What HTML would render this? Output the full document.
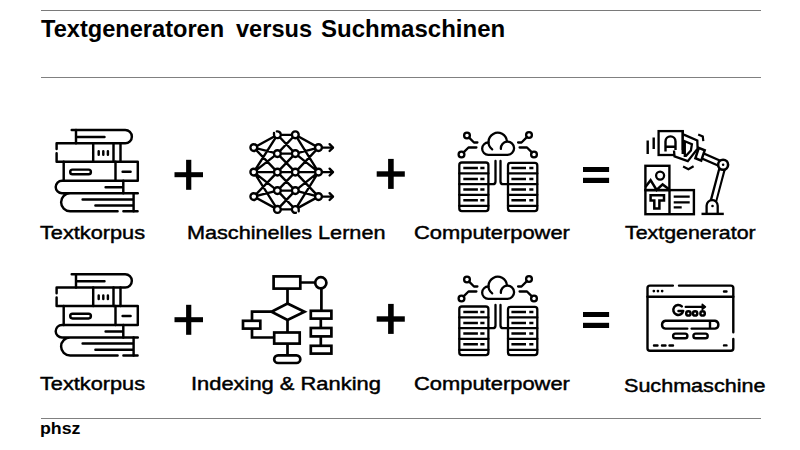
<!DOCTYPE html>
<html><head><meta charset="utf-8">
<style>
html,body{margin:0;padding:0;background:#fff;}
body{width:800px;height:450px;position:relative;overflow:hidden;}
svg{position:absolute;left:0;top:0;}
.t{position:absolute;white-space:pre;font-family:"Liberation Sans",sans-serif;color:#000;line-height:1;}
.title{font-weight:bold;font-size:23.6px;top:18px;transform-origin:0 0;}
#w1{left:41px;transform:scaleX(1.0)}#w2{left:236px}#w3{left:321px;transform:scaleX(1.018)}
.lab{font-size:18.8px;transform-origin:0 0;}
.ph{font-family:"Liberation Sans",sans-serif;font-weight:bold;font-size:16px;left:39.6px;top:420.6px;transform-origin:0 0;transform:scaleX(1.11);}

#l1{left:40.3px;top:223.8px;transform:scaleX(1.1569);}
#l2{left:186.5px;top:223.8px;transform:scaleX(1.1520);}
#l3{left:414px;top:223.8px;transform:scaleX(1.1665);}
#l4{left:625px;top:223.8px;transform:scaleX(1.1375);}
#l5{left:40px;top:374.8px;transform:scaleX(1.1569);}
#l6{left:191px;top:374.8px;transform:scaleX(1.1656);}
#l7{left:414px;top:374.8px;transform:scaleX(1.1665);}
#l8{left:623.5px;top:376.9px;transform:scaleX(1.1481);}
.lab{-webkit-text-stroke:0.45px #000;}
</style></head>
<body>
<svg width="800" height="450" viewBox="0 0 800 450">
<defs>
 <g id="books" fill="none" stroke="#000" stroke-width="2.45" stroke-linecap="round" stroke-linejoin="round">
  <path d="M71.7,130 H125.2 A6.65,6.65 0 0 1 125.2,143.3 H56.6 V149 M56.6,153.2 V161.8 H137.8 V180.7 H62 A6.3,6.3 0 0 0 62,193.3 H137.8 M70.1,193.3 A9,9 0 0 0 70.1,211.3 H117.6 M123.4,211.3 H137.6"/>
  <path d="M76,130 V143.3 M77,137 H104.5 M93.2,143.3 V161.8 M113.5,143.3 V161.8 M120.5,143.3 V161.8 M98.7,151.2 V154.8 M103.3,151.2 V154.8 M107.9,151.2 V154.8"/>
  <path d="M63.7,161.8 V180.7 M115.5,161.8 V180.7 M122.6,171.7 H130.6"/>
  <rect x="70.2" y="169.6" width="20.7" height="4.6" rx="2.3"/>
  <path d="M123.3,180.7 V193.3 M105.6,187.2 H123.3"/>
  <path d="M133.6,193.3 V211.3 M82.6,199.4 H133.6 M95.4,205.5 H133.6"/>
 </g>
 <g id="cloudsrv" fill="none" stroke="#000" stroke-width="2.3" stroke-linecap="round" stroke-linejoin="round">
  <circle cx="467" cy="135.5" r="2.9"/>
  <circle cx="461.5" cy="154.5" r="2.9"/>
  <circle cx="529" cy="135" r="2.9"/>
  <circle cx="534" cy="154.5" r="2.9"/>
  <path d="M469.1,137.6 L474,142.5 H477.4 M463.6,152.4 L468.5,147.5 H476.4 M526.9,137.1 L521.5,142.5 H518.1 M531.9,152.4 L527,147.5 H519.6"/>
  <path d="M492.2,149.3 A9.2,9.2 0 1 1 506.9,141.2"/>
  <path d="M500.9,148.8 A6.6,6.6 0 1 1 507.5,154.8 H488.25 A6.15,6.15 0 0 1 488.4,142.5"/>
  <path d="M495.5,161 V181.4 Q495.5,184.2 492.7,184.2 H488.6 M500.5,161 V181.4 Q500.5,184.2 503.3,184.2 H507.8"/>
  <rect x="459.3" y="162.5" width="29.1" height="48.6" rx="2.6"/>
  <rect x="508" y="162.8" width="29.3" height="48.3" rx="2.6"/>
  <path d="M459.3,173.4 H488.4 M459.3,184.2 H488.4 M459.3,194.8 H488.4 M459.3,205.8 H488.4 M508,173.4 H537.3 M508,184.2 H537.3 M508,194.8 H537.3 M508,205.8 H537.3"/>
  <path stroke-linecap="butt" stroke-width="2.5" d="M463.3,168.1 H477.9 M463.3,178.9 H477.9 M463.3,189.5 H477.9 M463.3,200.3 H477.9 M511.4,168.1 H526 M511.4,178.9 H526 M511.4,189.5 H526 M511.4,200.3 H526"/>
  <path stroke-linecap="butt" stroke-width="2.5" d="M480.3,168.1 H484.5 M480.3,178.9 H484.5 M480.3,189.5 H484.5 M480.3,200.3 H484.5 M529.3,168.1 H533.4 M529.3,178.9 H533.4 M529.3,189.5 H533.4 M529.3,200.3 H533.4"/>
 </g>
</defs>

<!-- rules -->
<rect x="41" y="10" width="720" height="1" fill="#7a7a7a"/>
<rect x="41" y="77" width="720" height="1" fill="#808080"/>
<rect x="41" y="418" width="720" height="1" fill="#808080"/>

<!-- symbols row 1 -->
<g fill="#000">
 <rect x="174.5" y="172.2" width="28.5" height="5"/>
 <rect x="186.1" y="159.8" width="5.2" height="30"/>
 <rect x="376.7" y="171.3" width="28.1" height="5.4"/>
 <rect x="388.1" y="158.9" width="5.6" height="30"/>
 <rect x="583" y="167" width="26.1" height="5"/>
 <rect x="583" y="177.8" width="26.1" height="5.2"/>
</g>
<g fill="#000">
 <rect x="174.5" y="317.2" width="28.5" height="5"/>
 <rect x="186.1" y="304.8" width="5.2" height="30"/>
 <rect x="376.7" y="316.3" width="28.1" height="5.4"/>
 <rect x="388.1" y="303.9" width="5.6" height="30"/>
 <rect x="583" y="312" width="26.1" height="5"/>
 <rect x="583" y="322.8" width="26.1" height="5.2"/>
</g>

<use href="#books"/>
<use href="#books" transform="translate(0,144.2)"/>
<use href="#cloudsrv"/>
<use href="#cloudsrv" transform="translate(0,144)"/>

<!-- neural net -->
<g id="nn" fill="none" stroke="#000" stroke-width="2.35" stroke-linecap="round">
 <path d="M253.8,147.6 L277.4,134.8 M253.8,147.6 L277.4,153.6 M253.8,147.6 L277.4,172.1
  M253.8,172.1 L277.4,134.8 M253.8,172.1 L277.4,153.6 M253.8,172.1 L277.4,172.1 M253.8,172.1 L277.4,190.6 M253.8,172.1 L277.4,209.4
  M253.8,196.6 L277.4,172.1 M253.8,196.6 L277.4,190.6 M253.8,196.6 L277.4,209.4
  M277.4,134.8 H295.3 M277.4,153.6 H295.3 M277.4,172.1 H295.3 M277.4,190.6 H295.3 M277.4,209.4 H295.3
  M277.4,134.8 L295.3,153.6 M277.4,153.6 L295.3,134.8 M277.4,153.6 L295.3,172.1 M277.4,172.1 L295.3,153.6
  M277.4,172.1 L295.3,190.6 M277.4,190.6 L295.3,172.1 M277.4,190.6 L295.3,209.4 M277.4,209.4 L295.3,190.6
  M318.5,147.6 L295.3,134.8 M318.5,147.6 L295.3,153.6 M318.5,147.6 L295.3,172.1
  M318.5,172.1 L295.3,134.8 M318.5,172.1 L295.3,153.6 M318.5,172.1 L295.3,172.1 M318.5,172.1 L295.3,190.6 M318.5,172.1 L295.3,209.4
  M318.5,196.6 L295.3,172.1 M318.5,196.6 L295.3,190.6 M318.5,196.6 L295.3,209.4
  M318.5,147.6 H332.5 M318.5,172.1 H332.5 M318.5,196.6 H332.5"/>
 <path stroke-linejoin="round" d="M329.6,144.2 L333,147.6 L329.6,151 M329.6,168.7 L333,172.1 L329.6,175.5 M329.6,193.2 L333,196.6 L329.6,200"/>
 <g fill="#fff">
  <circle cx="253.8" cy="147.6" r="3.4"/><circle cx="253.8" cy="172.1" r="3.4"/><circle cx="253.8" cy="196.6" r="3.4"/>
  <circle cx="277.4" cy="153.6" r="3.4"/><circle cx="277.4" cy="172.1" r="3.4"/><circle cx="277.4" cy="190.6" r="3.4"/><circle cx="277.4" cy="209.4" r="3.4"/>
  <circle cx="295.3" cy="134.8" r="3.4"/><circle cx="295.3" cy="153.6" r="3.4"/><circle cx="295.3" cy="172.1" r="3.4"/><circle cx="295.3" cy="190.6" r="3.4"/>
  <circle cx="318.5" cy="147.6" r="3.4"/><circle cx="318.5" cy="172.1" r="3.4"/><circle cx="318.5" cy="196.6" r="3.4"/>
  <circle cx="277.4" cy="134.8" r="3.4" stroke="none"/>
  <circle cx="295.3" cy="209.4" r="3.4" stroke="none"/>
 </g>
 <path d="M276.8,131.4 A3.4,3.4 0 1 1 274,134.8 V133" />
 <path d="M295.9,212.8 A3.4,3.4 0 1 1 298.7,209.4 V211.2" />
</g>

<!-- flowchart -->
<g fill="none" stroke="#000" stroke-width="2.7" stroke-linejoin="miter">
 <rect x="273.6" y="276.4" width="26.7" height="12.2"/>
 <path d="M300.3,282.5 H315.2 M287.5,288.6 V303.5 M271.5,311.7 H252 V320.8 M252,328.6 V337.5 H274.2 M287.5,320 V332.5 M287.5,343.6 V355.3 M321.4,288.4 V310.8 M320.8,318.6 V328 M320.8,336.4 V345.8"/>
 <path d="M287.5,303.5 L304.5,311.7 L287.5,320 L271.5,311.7 Z"/>
 <circle cx="320.8" cy="282.8" r="5.6"/>
 <rect x="243" y="320.8" width="17.3" height="7.8"/>
 <rect x="274.2" y="332.5" width="25.5" height="11.1"/>
 <rect x="310.8" y="310.8" width="20.6" height="7.8"/>
 <rect x="310.8" y="328" width="20.6" height="8.4"/>
 <rect x="310.8" y="345.8" width="20.6" height="7.8"/>
 <rect x="274.2" y="355.3" width="26.1" height="7.7" rx="3.85"/>
</g>

<!-- text generator -->
<g fill="none" stroke="#000" stroke-width="2.3" stroke-linecap="butt" stroke-linejoin="miter">
 <path d="M647.7,140.5 V154 M653.7,137.5 V149" stroke-width="2.4"/>
 <rect x="658.6" y="131.1" width="24.2" height="23.9"/>
 <path stroke-width="2.4" d="M665.5,151.5 V141.4 A5,5 0 0 1 675.5,141.4 V150 M665.5,146.8 H675.5"/>
 <path stroke-width="7.6" d="M700,154.7 L723.1,164.8 L713.4,201"/>
 <path stroke="#fff" stroke-width="3.2" d="M702,155.6 L723.1,164.8 L714,199.5"/>
 <path fill="#fff" d="M683.8,134.6 L697.3,140.4 L697.6,148.6 L687.8,161.2 L674.5,156.4 L674,150.5 L682.7,150 Z" stroke="none"/>
 <path d="M683.8,134.6 L697.3,140.4 L697.6,148.6 L687.8,161.2 L674.5,156.4 L674,150.5"/>
 <path d="M682.7,131.1 V154 M684.8,141.2 L691.9,144.2 L690.9,150.6 L686,155.9 L684.8,155.9 Z"/>
 <path fill="#fff" stroke-width="2.5" d="M698.8,147.9 L704.7,150.3 L701.2,160.6 L695.4,158.2 Z"/>
 <path d="M698.2,134.6 L702.8,136.6 L703.3,141.2 M683.1,166.6 L688.4,169.2 L693.6,166.2" stroke-width="2.2"/>
 <circle cx="723.1" cy="164.8" r="5" stroke-width="2.6" fill="#fff"/>
 <circle cx="723.1" cy="164.8" r="1.25" fill="#000" stroke="none"/>
 <path fill="#fff" d="M706.6,213.8 V205.7 A5.55,5.55 0 0 1 717.7,205.7 V213.8"/>
 <circle cx="712.5" cy="206" r="1.3" fill="#000" stroke="none"/>
 <path d="M701.5,213.9 H723.8" stroke-width="2.4"/>
 <rect x="645.4" y="165.8" width="24" height="24.3" stroke-width="2.4"/>
 <circle cx="660.1" cy="175.6" r="4" stroke-width="2.3"/>
 <path d="M645.4,187 L650.6,180.2 L656.6,190 L662.6,184.4 L669.4,189.6" stroke-width="2.5" stroke-linejoin="miter"/>
 <rect x="645.4" y="190.1" width="48.5" height="24.1" stroke-width="2.4"/>
 <path d="M669.5,190.1 V214.2" stroke-width="2.4"/>
 <path d="M650.6,195.2 H664 V200.5 H659.4 V208.4 H654.3 V200.5 H650.6 Z" stroke-width="2.5"/>
 <path d="M673.7,196.7 H689.7 M673.7,202.4 H689.7 M673.7,207.3 H681.7" stroke-width="2.3"/>
</g>

<!-- search engine browser -->
<g fill="none" stroke="#000" stroke-width="2.4" stroke-linecap="round" stroke-linejoin="round">
 <path d="M672.9,285.6 H650 Q647.5,285.6 647.5,288.1 V348.2 Q647.5,350.8 650,350.8 H730.8 Q733.3,350.8 733.3,348.2 V339 M733.3,332.2 V288.1 Q733.3,285.6 730.8,285.6 H679"/>
 <path d="M647.5,296.7 H733.3"/>
 <path d="M653.8,291.1 h0.1 M657.9,291.1 h0.1 M662.1,291.1 h0.1" stroke-width="2.6"/>
 <path d="M724,291.5 H726.5 M724,345.4 H726.5 M654,345.5 H657.5 M662,345.5 H665.5 M669.5,345.5 H673"/>
 <path d="M687.3,328.6 H665.4 A4,4 0 0 1 665.4,320.7 H715 A4,4 0 0 1 715,328.6 H691.6 M710,320.7 V328.6"/>
 <rect x="673.1" y="333.6" width="14.3" height="4.6" rx="2.3"/>
 <rect x="693.4" y="333.6" width="14.3" height="4.6" rx="2.3"/>
 <path d="M681.8,306.3 A5,5 0 1 0 683.2,311 H678.5" stroke-width="2.5"/>
 <path d="M685.6,306.9 H703.5" stroke-width="2.1"/><path d="M702.3,304.4 L705.4,306.9 L702.3,309.4 Z" fill="#000" stroke-width="1.6"/>
 <circle cx="688.4" cy="313.4" r="2.2" stroke-width="2.5"/>
 <circle cx="695.1" cy="313.4" r="2.2" stroke-width="2.5"/>
 <circle cx="702.6" cy="313.4" r="2.2" stroke-width="2.5"/>
</g>
</svg>

<div class="t title" id="w1">Textgeneratoren</div><div class="t title" id="w2">versus</div><div class="t title" id="w3">Suchmaschinen</div>
<div class="t lab" id="l1">Textkorpus</div>
<div class="t lab" id="l2">Maschinelles Lernen</div>
<div class="t lab" id="l3">Computerpower</div>
<div class="t lab" id="l4">Textgenerator</div>
<div class="t lab" id="l5">Textkorpus</div>
<div class="t lab" id="l6">Indexing &amp; Ranking</div>
<div class="t lab" id="l7">Computerpower</div>
<div class="t lab" id="l8">Suchmaschine</div>
<div class="t ph">phsz</div>
</body></html>
